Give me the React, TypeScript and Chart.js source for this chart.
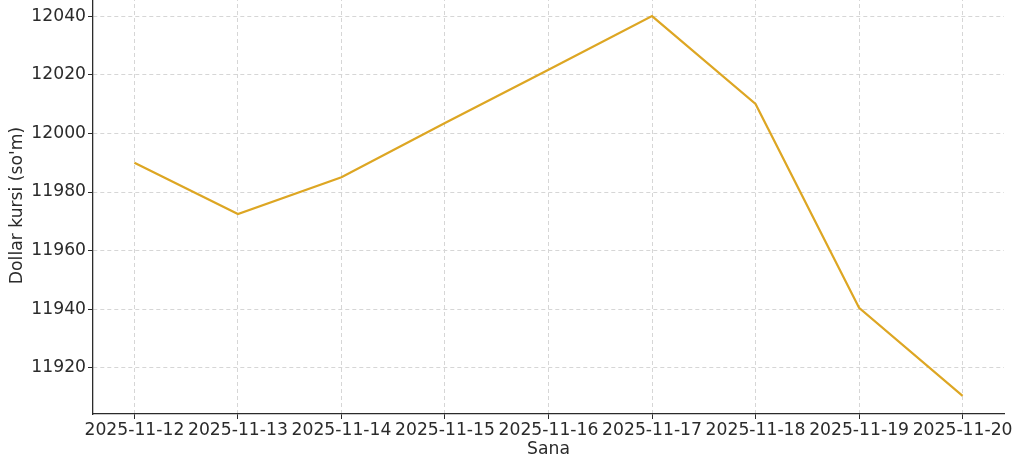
import React, { useEffect, useRef } from "react";
import { Chart, registerables } from "chart.js";

Chart.register(...registerables);

const dates = [
  "2025-11-12",
  "2025-11-13",
  "2025-11-14",
  "2025-11-15",
  "2025-11-16",
  "2025-11-17",
  "2025-11-18",
  "2025-11-19",
  "2025-11-20",
];
const rates = [11990, 11972.5, 11985, 12003.5, 12021.7, 12040, 12010, 11940.5, 11910.5];
const yTicks = [11920, 11940, 11960, 11980, 12000, 12020, 12040];

const FONT = "'DejaVu Sans', sans-serif";
const TEXT = "#2b2b2b";
const SIZE = 17.2;

export default function App() {
  const ref = useRef<HTMLCanvasElement | null>(null);

  useEffect(() => {
    if (!ref.current) return;
    const chart = new Chart(ref.current, {
      type: "line",
      data: {
        datasets: [
          {
            data: rates.map((v, i) => ({ x: i, y: v })),
            borderColor: "#DDA623",
            borderWidth: 2.2,
            pointRadius: 0,
            tension: 0,
            fill: false,
          },
        ],
      },
      options: {
        animation: false,
        responsive: false,
        layout: { padding: { left: 0, right: 20, top: 27, bottom: 0 } },
        plugins: { legend: { display: false }, tooltip: { enabled: false } },
        scales: {
          x: {
            type: "linear",
            min: -0.4,
            max: 8.4,
            afterBuildTicks: (s: any) => {
              s.ticks = dates.map((_, i) => ({ value: i }));
            },
            afterFit: (s: any) => {
              s.height = 56;
            },
            ticks: {
              autoSkip: false,
              maxRotation: 0,
              padding: 1,
              color: TEXT,
              font: { family: FONT, size: SIZE },
              callback: (v: any) => dates[Math.round(Number(v))] ?? "",
            },
            grid: {
              color: "#d6d6d6",
              lineWidth: 1,
              tickColor: TEXT,
              tickLength: 5,
              tickWidth: 1,
            },
            border: { display: true, color: TEXT, width: 1.3, dash: [4, 3] },
            title: {
              display: true,
              text: "Sana",
              color: TEXT,
              font: { family: FONT, size: SIZE },
              padding: { top: 0, bottom: 10 },
            },
          },
          y: {
            type: "linear",
            min: 11904.3,
            max: 12046.5,
            afterBuildTicks: (s: any) => {
              s.ticks = yTicks.map((v) => ({ value: v }));
            },
            afterFit: (s: any) => {
              s.width = 93;
            },
            ticks: {
              padding: 2,
              color: TEXT,
              font: { family: FONT, size: SIZE },
              callback: (v: any) => String(v),
            },
            grid: {
              color: "#d6d6d6",
              lineWidth: 1,
              tickColor: TEXT,
              tickLength: 5,
              tickWidth: 1,
            },
            border: { display: true, color: TEXT, width: 1.3, dash: [4, 3] },
            title: {
              display: true,
              text: "Dollar kursi (so'm)",
              color: TEXT,
              font: { family: FONT, size: SIZE },
              padding: { top: 7, bottom: 0 },
            },
          },
        },
      },
    });
    return () => chart.destroy();
  }, []);

  return (
    <div style={{ position: "fixed", left: 0, top: -30, width: 1024, height: 500, background: "#fff" }}>
      <canvas ref={ref} width={1024} height={500} style={{ display: "block" }} />
    </div>
  );
}
